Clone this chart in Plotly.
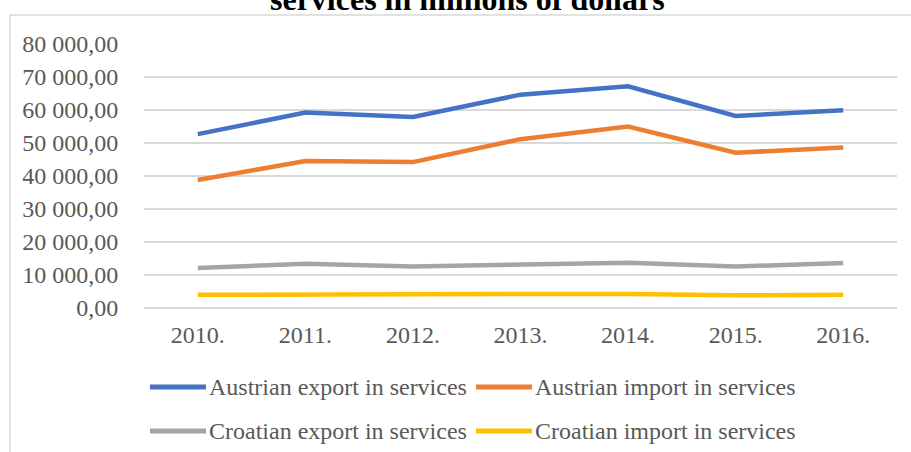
import plotly.graph_objects as go

# ---- data ----
years = ["2010.", "2011.", "2012.", "2013.", "2014.", "2015.", "2016."]
austrian_export = [52690, 59210, 57900, 64650, 67170, 58200, 59950]
austrian_import = [38790, 44510, 44210, 51160, 54990, 47030, 48670]
croatian_export = [12090, 13390, 12590, 13090, 13700, 12590, 13600]
croatian_import = [4020, 4230, 4130, 4230, 4230, 3830, 4020]
series_names = [
    "Austrian export in services",
    "Austrian import in services",
    "Croatian export in services",
    "Croatian import in services",
]
series_colors = ["#4472C4", "#ED7D31", "#A5A5A5", "#FFC000"]
title_text = "services in millions of dollars"
y_ticks = [0, 10000, 20000, 30000, 40000, 50000, 60000, 70000, 80000]

W, H = 911, 452
ML, MR, MT, MB = 144, 14, 44, 144
PW, PH = W - ML - MR, H - MT - MB

def px_x(p):
    return (p - ML) / PW

def px_y(p):
    return (H - MB - p) / PH

FONT = "Liberation Serif, Times New Roman, serif"
TXT = "#595959"

fig = go.Figure()
all_series = [austrian_export, austrian_import, croatian_export, croatian_import]
for name, vals, col in zip(series_names, all_series, series_colors):
    fig.add_trace(go.Scatter(
        x=years, y=vals, name=name, mode="lines",
        line=dict(color=col, width=4.5), showlegend=False,
    ))

shapes = [
    # chart border
    dict(type="rect", xref="paper", yref="paper",
         x0=px_x(10), x1=px_x(930), y0=px_y(470), y1=px_y(15),
         line=dict(color="#D9D9D9", width=1.5), fillcolor="rgba(0,0,0,0)", layer="below"),
]
annotations = [
    dict(text="<b>" + title_text + "</b>", xref="paper", yref="paper",
         x=px_x(467), y=px_y(19), xanchor="center", yanchor="bottom",
         showarrow=False, font=dict(family=FONT, size=32, color="#000000")),
]

# manual legend (2 x 2)
leg_pos = [(150, 387), (476, 387), (150, 431), (476, 431)]
for (lx, ly), name, col in zip(leg_pos, series_names, series_colors):
    shapes.append(dict(type="line", xref="paper", yref="paper",
                       x0=px_x(lx), x1=px_x(lx + 56), y0=px_y(ly), y1=px_y(ly),
                       line=dict(color=col, width=5)))
    annotations.append(dict(text=name, xref="paper", yref="paper",
                            x=px_x(lx + 57), y=px_y(ly), xanchor="left", yanchor="middle",
                            showarrow=False, font=dict(family=FONT, size=24, color=TXT)))

fig.update_layout(
    width=W, height=H,
    margin=dict(l=ML, r=MR, t=MT, b=MB, autoexpand=False),
    paper_bgcolor="white", plot_bgcolor="white",
    separators=", ",
    font=dict(family=FONT, size=24, color=TXT),
    shapes=shapes, annotations=annotations,
    showlegend=False,
)
fig.update_xaxes(
    type="category", range=[-0.5, 6.5], showgrid=False, zeroline=False,
    showline=False, ticks="outside", ticklen=5, tickcolor="rgba(0,0,0,0)",
    tickfont=dict(family=FONT, size=24, color=TXT),
)
fig.update_yaxes(
    range=[0, 80000], tickvals=y_ticks, tickformat=",.2f",
    showgrid=True, gridcolor="#D9D9D9", gridwidth=1.5,
    zeroline=True, zerolinecolor="#D9D9D9", zerolinewidth=2,
    showline=False, ticks="outside", ticklen=20, tickcolor="rgba(0,0,0,0)",
    tickfont=dict(family=FONT, size=24, color=TXT),
)

fig.write_html("out.html", config={"displayModeBar": False},
               post_script="document.body.style.margin='0px';")
